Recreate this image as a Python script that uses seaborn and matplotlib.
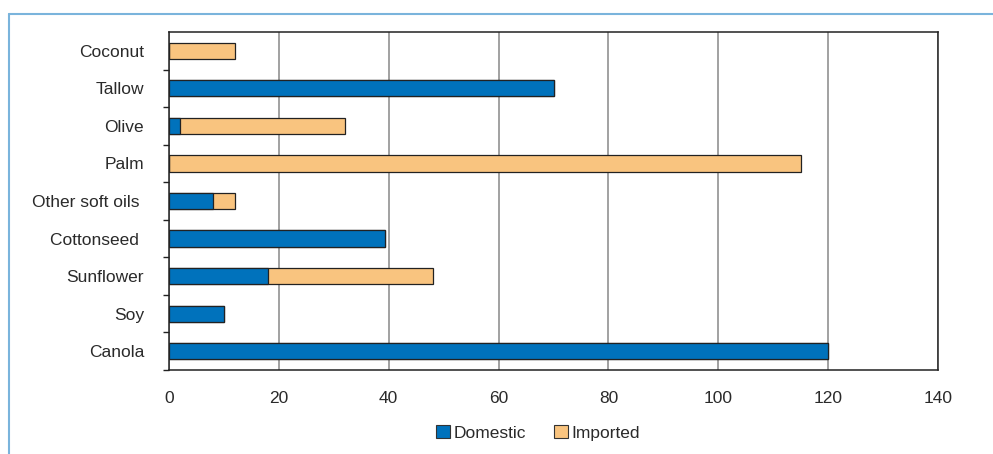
import matplotlib
matplotlib.use("Agg")
import matplotlib.pyplot as plt
import pandas as pd
import seaborn as sns
from matplotlib.lines import Line2D
from matplotlib.patches import Patch
from matplotlib.ticker import FixedLocator, MultipleLocator

# data, top to bottom as drawn
oils = ["Coconut", "Tallow", "Olive", "Palm", "Other soft oils ", "Cottonseed ",
        "Sunflower", "Soy", "Canola"]
domestic = [0, 70, 2, 0, 8, 39.3, 18, 10, 120]
imported = [12, 0, 30, 115, 4, 0, 30, 0, 0]

DOM_COLOR = "#0072bc"
IMP_COLOR = "#f9c47f"
FRAME_COLOR = "#7ab4dc"
TEXT_COLOR = "#2a2a2a"
FS = 12.5

sns.set_theme(style="white")
plt.rcParams["font.family"] = ["Liberation Sans", "DejaVu Sans"]

df = pd.DataFrame({"oil": oils, "domestic": domestic, "imported": imported})
df["total"] = df["domestic"] + df["imported"]

fig = plt.figure(figsize=(9.93, 4.54), dpi=100)
ax = fig.add_axes([169 / 993, 1 - 370 / 454, (938 - 169) / 993, (370 - 32) / 454])

kw = dict(y="oil", orient="h", width=0.43, edgecolor="#222222", linewidth=0.9,
          ax=ax, order=oils, zorder=3)
sns.barplot(data=df, x="total", color=IMP_COLOR, saturation=1, **kw)
sns.barplot(data=df, x="domestic", color=DOM_COLOR, saturation=1, **kw)

ax.set_xlim(0, 140)
ax.set_ylim(len(oils) - 0.5, -0.5)
ax.xaxis.set_major_locator(MultipleLocator(20))
ax.grid(axis="x", color="#888888", linewidth=1.1, zorder=0)
ax.grid(axis="y", visible=False)
ax.set_axisbelow(True)
for side in ["top", "right", "left", "bottom"]:
    ax.spines[side].set_visible(True)
    ax.spines[side].set_color("#222222")
    ax.spines[side].set_linewidth(1.1)

ax.set_xlabel("")
ax.set_ylabel("")
ax.tick_params(axis="x", which="major", direction="out", length=5, width=1,
               color="#222222", labelsize=FS, pad=10, labelcolor=TEXT_COLOR)
ax.tick_params(axis="y", which="major", length=0, pad=18, labelsize=FS,
               labelcolor=TEXT_COLOR)
ax.yaxis.set_minor_locator(FixedLocator([i + 0.5 for i in range(len(oils))]))
ax.tick_params(axis="y", which="minor", left=True, direction="out", length=4,
               width=1, color="#222222")

handles = [Patch(facecolor=DOM_COLOR, edgecolor="#333333", linewidth=0.8, label="Domestic"),
           Patch(facecolor=IMP_COLOR, edgecolor="#333333", linewidth=0.8, label="Imported")]
fig.legend(handles=handles, loc="center", bbox_to_anchor=(538 / 993, 1 - 433 / 454),
           ncol=2, frameon=False, handlelength=0.8, handleheight=0.8,
           handletextpad=0.2, columnspacing=1.6, fontsize=FS, labelcolor=TEXT_COLOR)

# thin blue frame at top and left of the panel
fig.add_artist(Line2D([9 / 993, 1], [1 - 14 / 454, 1 - 14 / 454], color=FRAME_COLOR,
                      linewidth=1.5, transform=fig.transFigure))
fig.add_artist(Line2D([9 / 993, 9 / 993], [0, 1 - 14 / 454], color=FRAME_COLOR,
                      linewidth=1.5, transform=fig.transFigure))

fig.savefig("out.png", dpi=100)
